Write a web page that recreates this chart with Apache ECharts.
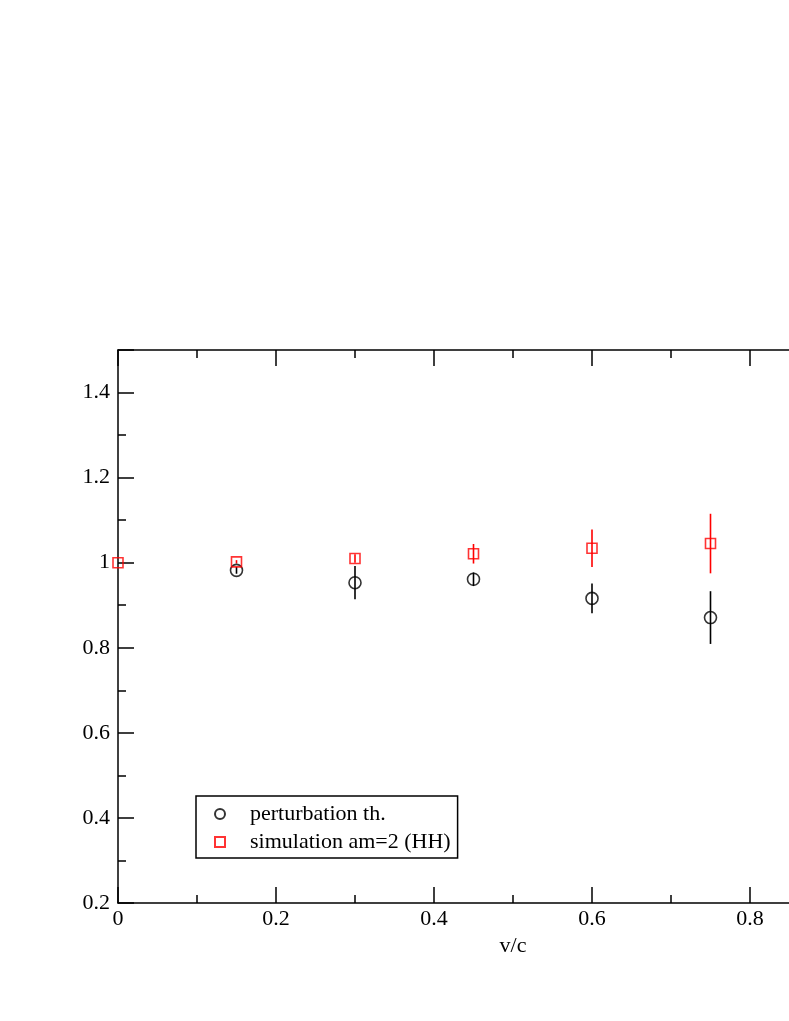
<!DOCTYPE html>
<html>
<head>
<meta charset="utf-8">
<script src="https://cdn.jsdelivr.net/npm/echarts@6/dist/echarts.min.js"></script>
<style>
html,body{margin:0;padding:0;background:#fff;}
#chart{width:789px;height:1021px;}
</style>
</head>
<body>
<div id="chart"></div>
<script>
// ---- data ----
var xVals = [0.0, 0.15, 0.30, 0.45, 0.60, 0.75];
var pertX = [0.15, 0.30, 0.45, 0.60, 0.75];
var pertVals = [0.982, 0.953, 0.961, 0.916, 0.871];
var pertErr = [0.008, 0.039, 0.016, 0.035, 0.062];
var simVals = [1.000, 1.002, 1.010, 1.021, 1.034, 1.045];
var simErr = [0.0, 0.004, 0.010, 0.023, 0.044, 0.070];
var seriesNames = ['perturbation th.', 'simulation am=2 (HH)'];
var xTitle = 'v/c';

var FONT = '"Liberation Serif","Times New Roman",serif';

function pairs(xs, ys) { return xs.map(function (x, i) { return [x, ys[i]]; }); }
function errData(xs, ys, es) { return xs.map(function (x, i) { return [x, ys[i] - es[i], ys[i] + es[i]]; }); }

function errRender(color) {
  return function (params, api) {
    var lo = api.coord([api.value(0), api.value(1)]);
    var hi = api.coord([api.value(0), api.value(2)]);
    return {
      type: 'line',
      shape: { x1: lo[0], y1: lo[1], x2: hi[0], y2: hi[1] },
      style: { stroke: color, lineWidth: 1.6 }
    };
  };
}

function fmt(v) { return String(+v.toFixed(1)); }

var chart = echarts.init(document.getElementById('chart'), null, { renderer: 'canvas' });
function axisCommon() {
  return {
    axisLine: { show: true, onZero: false, lineStyle: { color: '#000', width: 1.5 } },
    axisTick: { show: true, inside: true, length: 16, lineStyle: { color: '#000', width: 1.5 } },
    minorTick: { show: true, splitNumber: 2, length: 8, lineStyle: { color: '#000', width: 1.5 } },
    splitLine: { show: false },
    minorSplitLine: { show: false }
  };
}
chart.setOption({
  animation: false,
  backgroundColor: '#fff',
  grid: { left: 118, top: 350, width: 790, height: 553, show: false, outerBoundsMode: 'none', containLabel: false },
  xAxis: [
    Object.assign({
      type: 'value', min: 0, max: 1, interval: 0.2, position: 'bottom',
      name: xTitle, nameLocation: 'middle', nameGap: 27,
      nameTextStyle: { fontFamily: FONT, fontSize: 22, color: '#000' },
      axisLabel: { fontFamily: FONT, fontSize: 22, color: '#000', margin: 5, formatter: fmt }
    }, axisCommon()),
    Object.assign({
      type: 'value', min: 0, max: 1, interval: 0.2, position: 'top',
      axisLabel: { show: false }
    }, axisCommon())
  ],
  yAxis: [
    Object.assign({
      type: 'value', min: 0.2, max: 1.5, interval: 0.2, position: 'left',
      axisLabel: { fontFamily: FONT, fontSize: 22, color: '#000', margin: 8, formatter: fmt, showMaxLabel: false }
    }, axisCommon()),
    Object.assign({
      type: 'value', min: 0.2, max: 1.5, interval: 0.2, position: 'right',
      axisLabel: { show: false }
    }, axisCommon())
  ],
  legend: {
    orient: 'vertical',
    left: 196, top: 796,
    data: seriesNames,
    backgroundColor: '#fff',
    borderColor: '#000', borderWidth: 1.5, borderRadius: 0,
    padding: [7, 7, 5, 18],
    itemWidth: 10, itemHeight: 10, itemGap: 6,
    textStyle: { fontFamily: FONT, fontSize: 22, color: '#000', lineHeight: 20, padding: [0, 0, 0, 20] }
  },
  series: [
    {
      type: 'custom', name: 'perr', renderItem: errRender('#000'),
      data: errData(pertX, pertVals, pertErr), z: 3, silent: true,
      encode: { x: 0, y: [1, 2] }
    },
    {
      type: 'custom', name: 'serr', renderItem: errRender('#ff0000'),
      data: errData(xVals, simVals, simErr), z: 3, silent: true,
      encode: { x: 0, y: [1, 2] }
    },
    {
      type: 'scatter', name: seriesNames[0],
      data: pairs(pertX, pertVals),
      symbol: 'circle', symbolSize: 12,
      itemStyle: { color: 'rgba(0,0,0,0)', borderColor: '#000', borderWidth: 1.6 },
      z: 4
    },
    {
      type: 'scatter', name: seriesNames[1],
      data: pairs(xVals, simVals),
      symbol: 'rect', symbolSize: 10,
      itemStyle: { color: 'rgba(0,0,0,0)', borderColor: '#ff0000', borderWidth: 1.6 },
      z: 4
    }
  ]
});
</script>
</body>
</html>
